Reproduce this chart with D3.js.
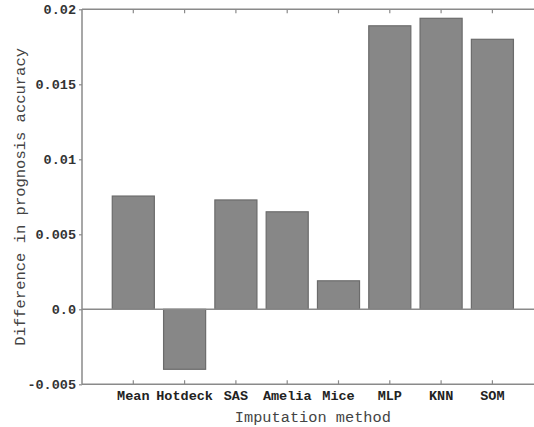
<!DOCTYPE html>
<html>
<head>
<meta charset="utf-8">
<script src="https://cdn.jsdelivr.net/npm/d3@7"></script>
<style>
  html, body { margin: 0; padding: 0; background: #fff; }
  svg { display: block; }
  text { font-family: "Liberation Mono", "Courier New", monospace; }
</style>
</head>
<body>
<div id="chart"></div>
<script>
// imputation methods and their effect on prognosis accuracy
const methods = ["Mean", "Hotdeck", "SAS", "Amelia", "Mice", "MLP", "KNN", "SOM"];
const diffs = [0.00755, -0.0040, 0.00729, 0.0065, 0.0019, 0.0189, 0.0194, 0.0180];
const yTicks = [-0.005, 0, 0.005, 0.01, 0.015, 0.02];
const yTickLabels = ["-0.005", "0.0", "0.005", "0.01", "0.015", "0.02"];

const W = 534, H = 427;
const margin = {top: 9.3, left: 82};
const step = 51.3;
const plotW = step * 9;          // plot runs past the right edge
const plotH = 375;

const svg = d3.select("#chart").append("svg")
  .attr("width", W)
  .attr("height", H);

const g = svg.append("g")
  .attr("transform", "translate(" + margin.left + "," + margin.top + ")");

const x = d3.scaleBand()
  .domain(methods)
  .range([step * 0.5, step * 8.5])
  .paddingInner(0.18)
  .paddingOuter(0.09);

const y = d3.scaleLinear()
  .domain([-0.005, 0.02])
  .range([plotH, 0]);

const axisColor = "#8a8a8a";

// bars
g.selectAll("rect.bar")
  .data(methods.map((m, i) => ({name: m, value: diffs[i]})))
  .enter()
  .append("rect")
    .attr("class", "bar")
    .attr("x", d => x(d.name))
    .attr("width", x.bandwidth())
    .attr("y", d => y(Math.max(0, d.value)))
    .attr("height", d => Math.abs(y(d.value) - y(0)))
    .attr("fill", "#878787")
    .attr("stroke", "#6b6b6b")
    .attr("stroke-width", 1.2);

// zero line
g.append("line")
  .attr("x1", 0).attr("x2", plotW)
  .attr("y1", y(0)).attr("y2", y(0))
  .attr("stroke", axisColor).attr("stroke-width", 1.5);

// frame: left, top, bottom
const frame = [[0, 0, 0, plotH], [0, 0, plotW, 0], [0, plotH, plotW, plotH]];
g.selectAll("line.frame")
  .data(frame)
  .enter()
  .append("line")
    .attr("class", "frame")
    .attr("x1", d => d[0]).attr("y1", d => d[1])
    .attr("x2", d => d[2]).attr("y2", d => d[3])
    .attr("stroke", axisColor).attr("stroke-width", 1.5);

// y axis
const yAxis = g.append("g")
  .call(d3.axisLeft(y)
    .tickValues(yTicks)
    .tickSize(3)
    .tickPadding(3)
    .tickFormat((d, i) => yTickLabels[i]));
yAxis.select(".domain").remove();
yAxis.selectAll("line").attr("stroke", axisColor).attr("stroke-width", 1.2);
yAxis.selectAll("text")
  .attr("font-family", "Liberation Mono, Courier New, monospace")
  .attr("font-size", 13.5)
  .attr("font-weight", "bold")
  .attr("fill", "#333");

// x axis, ticks pointing inward
const xAxis = g.append("g")
  .attr("transform", "translate(0," + plotH + ")")
  .call(d3.axisBottom(x).tickSize(-4).tickPadding(6));
xAxis.select(".domain").remove();
xAxis.selectAll("line").attr("stroke", axisColor).attr("stroke-width", 1.2);
xAxis.selectAll("text")
  .attr("font-family", "Liberation Mono, Courier New, monospace")
  .attr("font-size", 13.5)
  .attr("font-weight", "bold")
  .attr("fill", "#222");

// mirrored ticks on top
g.selectAll("line.topTick")
  .data(methods)
  .enter()
  .append("line")
    .attr("class", "topTick")
    .attr("x1", d => x(d) + x.bandwidth() / 2)
    .attr("x2", d => x(d) + x.bandwidth() / 2)
    .attr("y1", 0).attr("y2", 4)
    .attr("stroke", axisColor).attr("stroke-width", 1.2);

// axis titles
g.append("text")
  .attr("x", plotW / 2)
  .attr("y", plotH + 38)
  .attr("text-anchor", "middle")
  .attr("font-size", 15.3)
  .attr("fill", "#444")
  .text("Imputation method");

g.append("text")
  .attr("transform", "translate(" + (-margin.left + 25) + "," + (plotH / 2) + ") rotate(-90)")
  .attr("text-anchor", "middle")
  .attr("font-size", 15.5)
  .attr("fill", "#444")
  .text("Difference in prognosis accuracy");
</script>
</body>
</html>
